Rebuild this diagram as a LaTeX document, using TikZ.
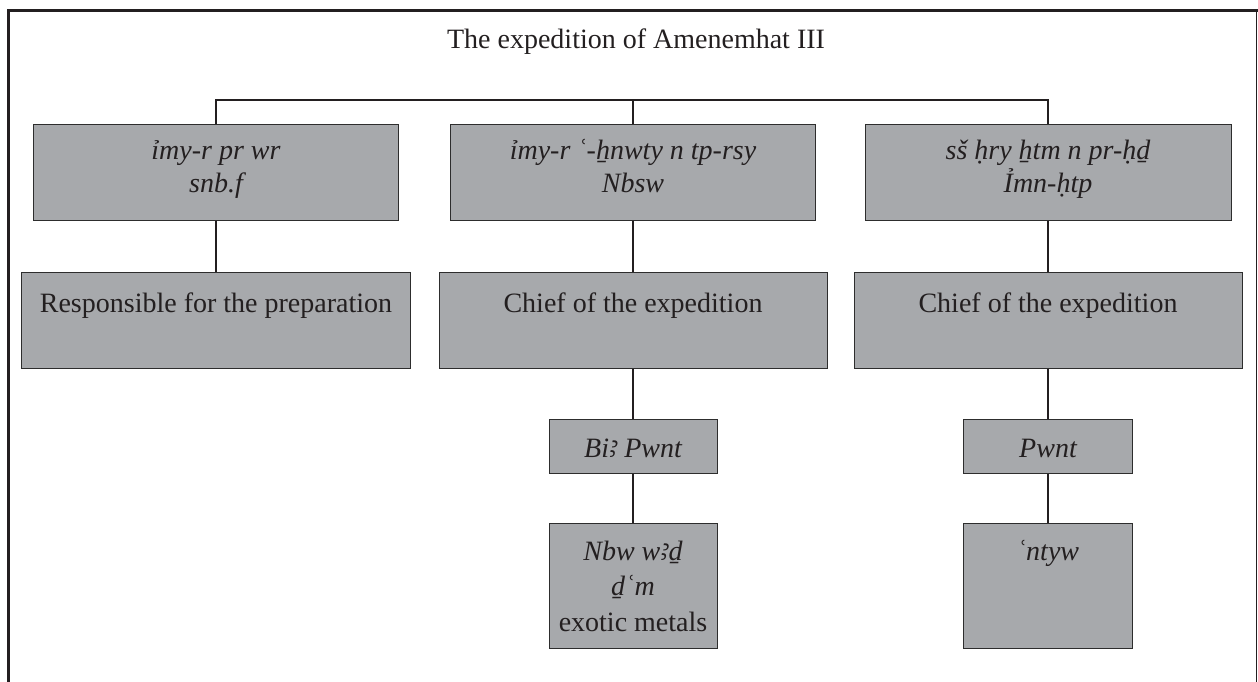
\documentclass[tikz,border=0pt]{standalone}
\usepackage{fontspec}
\setmainfont{Liberation Serif}
\newfontfamily\egyfont{Noto Sans}
\definecolor{boxfill}{RGB}{167,169,172}
\definecolor{boxline}{RGB}{45,45,45}
\definecolor{ink}{RGB}{35,31,32}
\tikzset{
  gbox/.style={draw=boxline, line width=1pt, fill=boxfill, inner sep=0pt,
    align=center, text=ink, font=\fontsize{28}{33}\selectfont},
  conn/.style={draw=ink, line width=1.5pt},
  frameline/.style={draw=ink}
}
\begin{document}
\begin{tikzpicture}[x=1pt,y=-1pt]
\useasboundingbox (0,0) rectangle (1258,681);
% frame
\draw[frameline, line width=3pt] (8.8,690) -- (8.8,10.3) -- (1262,10.3);
\draw[frameline, line width=1.3pt] (1256.8,10.3) -- (1256.8,690);
% title
\node[anchor=base, text=ink, font=\fontsize{28}{33}\selectfont] (title) at (636,48) {The expedition of Amenemhat III};
\coordinate (bar) at (633,100);
% row A
\node[gbox, minimum width=365pt, text height=68pt, text depth=28pt, font=\fontsize{28}{33}\selectfont\itshape] (A1) at (216,172) {ỉmy-r pr wr\\snb.f};
\node[gbox, minimum width=365pt, text height=68pt, text depth=28pt, font=\fontsize{28}{33}\selectfont\itshape] (A2) at (633,172) {ỉmy-r ʿ-ẖnwty n tp-rsy\\Nbsw};
\node[gbox, minimum width=366pt, text height=68pt, text depth=28pt, font=\fontsize{28}{33}\selectfont\itshape] (A3) at (1048,172) {sš ḥry ẖtm n pr-ḥḏ\\Ỉmn-ḥtp};
% row B
\node[gbox, minimum width=389pt, text height=40pt, text depth=56pt] (B1) at (216,320) {Responsible for the preparation};
\node[gbox, minimum width=388pt, text height=40pt, text depth=56pt] (B2) at (633,320) {Chief of the expedition};
\node[gbox, minimum width=388pt, text height=40pt, text depth=56pt] (B3) at (1048,320) {Chief of the expedition};
% row C
\node[gbox, minimum width=168pt, text height=38pt, text depth=16pt, font=\fontsize{28}{33}\selectfont\itshape] (C2) at (633,446) {Bi{\egyfont ꜣ} Pwnt};
\node[gbox, minimum width=169pt, text height=38pt, text depth=16pt, font=\fontsize{28}{33}\selectfont\itshape] (C3) at (1048,446) {Pwnt};
% row D
\node[gbox, minimum width=168pt, text height=108pt, text depth=17pt, font=\fontsize{28}{35.5}\selectfont\itshape] (D2) at (633,585.5) {Nbw w{\egyfont ꜣ}ḏ\\ḏʿm\\\upshape exotic metals};
\node[gbox, minimum width=169pt, text height=37pt, text depth=88pt, font=\fontsize{28}{35.5}\selectfont\itshape] (D3) at (1048,585.5) {ʿntyw};
% connectors
\draw[conn] (A1.north) |- (bar) -| (A3.north);
\draw[conn] (bar) -- (A2.north);
\draw[conn] (A1.south) -- (B1.north);
\draw[conn] (A2.south) -- (B2.north);
\draw[conn] (A3.south) -- (B3.north);
\draw[conn] (B2.south) -- (C2.north);
\draw[conn] (B3.south) -- (C3.north);
\draw[conn] (C2.south) -- (D2.north);
\draw[conn] (C3.south) -- (D3.north);
\end{tikzpicture}
\end{document}
